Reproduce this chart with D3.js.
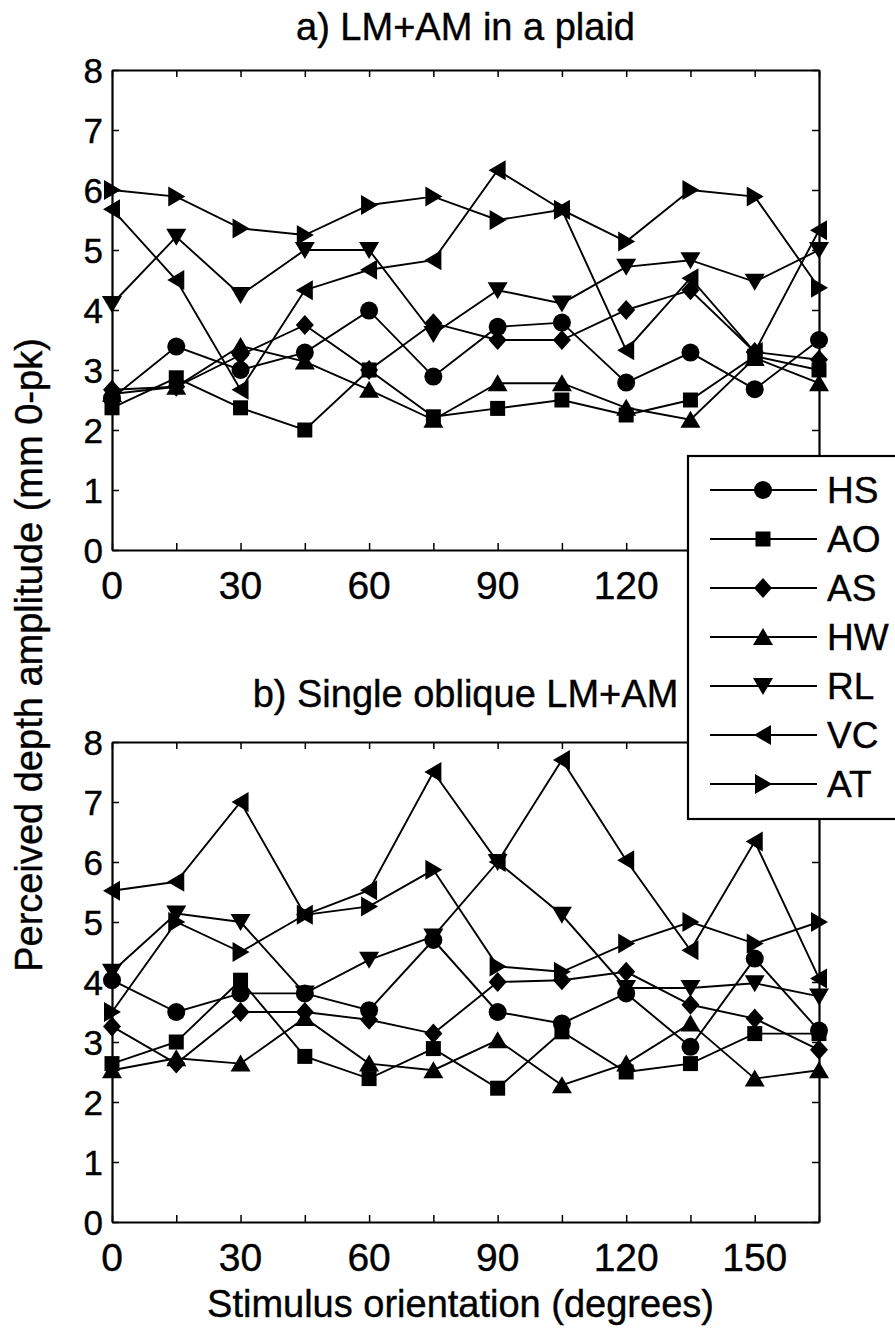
<!DOCTYPE html>
<html>
<head>
<meta charset="utf-8">
<script src="https://cdn.jsdelivr.net/npm/d3@7"></script>
<style>
  body { margin: 0; background: #fff; }
  text { font-family: "Liberation Sans", Arial, Helvetica, sans-serif; fill: #000; stroke: #000; stroke-width: 0.4px; }
</style>
</head>
<body>
<div id="chart"></div>
<script>
// data
const orientations = [0, 15, 30, 45, 60, 75, 90, 105, 120, 135, 150, 165];
const subjects = ['HS', 'AO', 'AS', 'HW', 'RL', 'VC', 'AT'];
const xTickLabels = [0, 30, 60, 90, 120, 150];
const yTickLabels = [0, 1, 2, 3, 4, 5, 6, 7, 8];

// a) LM+AM in a plaid
const plaidHS = [2.53, 3.39, 3.0, 3.29, 3.99, 2.89, 3.72, 3.79, 2.79, 3.29, 2.68, 3.5];
const plaidAO = [2.37, 2.87, 2.37, 2.0, 3.0, 2.22, 2.36, 2.5, 2.25, 2.5, 3.23, 3.0];
const plaidAS = [2.67, 2.72, 3.25, 3.75, 3.0, 3.78, 3.5, 3.5, 4.0, 4.33, 3.3, 3.17];
const plaidHW = [2.6, 2.72, 3.4, 3.14, 2.67, 2.17, 2.78, 2.78, 2.37, 2.17, 3.2, 2.78];
const plaidRL = [4.1, 5.22, 4.25, 5.0, 5.0, 3.6, 4.33, 4.11, 4.72, 4.83, 4.47, 5.0];
const plaidVC = [5.68, 4.5, 2.67, 4.33, 4.67, 4.83, 6.33, 5.67, 3.33, 4.53, 3.3, 5.33];
const plaidAT = [6.0, 5.89, 5.36, 5.25, 5.75, 5.89, 5.5, 5.67, 5.14, 6.0, 5.89, 4.37];

// b) Single oblique LM+AM
const obliqueHS = [4.03, 3.5, 3.81, 3.81, 3.53, 4.7, 3.5, 3.31, 3.81, 2.92, 4.39, 3.19];
const obliqueAO = [2.64, 3.0, 4.03, 2.76, 2.39, 2.89, 2.23, 3.17, 2.5, 2.64, 3.14, 3.14];
const obliqueAS = [3.26, 2.64, 3.5, 3.5, 3.37, 3.14, 4.0, 4.03, 4.17, 3.62, 3.39, 2.87];
const obliqueHW = [2.53, 2.73, 2.64, 3.4, 2.64, 2.53, 3.03, 2.28, 2.64, 3.31, 2.39, 2.53];
const obliqueRL = [4.17, 5.14, 5.0, 3.81, 4.37, 4.76, 6.0, 5.12, 3.9, 3.9, 3.98, 3.76];
const obliqueVC = [5.52, 5.67, 7.0, 5.12, 5.53, 7.5, 6.0, 7.7, 6.03, 4.53, 6.34, 4.06];
const obliqueAT = [3.5, 5.0, 4.5, 5.12, 5.26, 5.87, 4.26, 4.17, 4.64, 5.0, 4.64, 5.0];

const plaidSeries = [plaidHS, plaidAO, plaidAS, plaidHW, plaidRL, plaidVC, plaidAT];
const obliqueSeries = [obliqueHS, obliqueAO, obliqueAS, obliqueHW, obliqueRL, obliqueVC, obliqueAT];

// layout
const width = 895, height = 1329;
const left = 112, right = 819;
const panels = [
  { title: 'a) LM+AM in a plaid', top: 70, bottom: 550, series: plaidSeries, titleY: 40 },
  { title: 'b) Single oblique LM+AM', top: 742, bottom: 1222, series: obliqueSeries, titleY: 707 }
];

// marker shapes around (0,0); circle is drawn separately
const markerPaths = {
  AO: 'M-7.5,-7.5H7.5V7.5H-7.5Z',
  AS: 'M0,-10L9,0L0,10L-9,0Z',
  HW: 'M0,-9L10,8L-10,8Z',
  RL: 'M0,9L10,-8L-10,-8Z',
  VC: 'M-9,0L8,-10L8,10Z',
  AT: 'M9,0L-8,-10L-8,10Z'
};

function drawMarker(g, name, x, y) {
  if (name === 'HS') {
    g.append('circle').attr('cx', x).attr('cy', y).attr('r', 9).attr('fill', '#000');
  } else {
    g.append('path').attr('d', markerPaths[name])
      .attr('transform', `translate(${x},${y})`).attr('fill', '#000');
  }
}

const svg = d3.select('#chart').append('svg')
  .attr('width', width).attr('height', height);

const xScale = d3.scaleLinear().domain([0, 165]).range([left, right]);

panels.forEach((p) => {
  const yScale = d3.scaleLinear().domain([0, 8]).range([p.bottom, p.top]);
  const g = svg.append('g');

  // data lines + markers
  const line = d3.line().x((d, i) => xScale(orientations[i])).y((d) => yScale(d));
  p.series.forEach((vals, si) => {
    g.append('path').datum(vals)
      .attr('d', line)
      .attr('fill', 'none')
      .attr('stroke', '#000')
      .attr('stroke-width', 1.9);
    vals.forEach((v, i) => drawMarker(g, subjects[si], xScale(orientations[i]), yScale(v)));
  });

  // box with inward ticks on all sides
  const bottomAxis = d3.axisBottom(xScale).tickValues(orientations).tickSizeInner(-7).tickSizeOuter(0).tickFormat('');
  const topAxis = d3.axisTop(xScale).tickValues(orientations).tickSizeInner(-7).tickSizeOuter(0).tickFormat('');
  const leftAxis = d3.axisLeft(yScale).tickValues(yTickLabels).tickSizeInner(-7).tickSizeOuter(0).tickFormat('');
  const rightAxis = d3.axisRight(yScale).tickValues(yTickLabels).tickSizeInner(-7).tickSizeOuter(0).tickFormat('');

  [[bottomAxis, `translate(0,${p.bottom})`], [topAxis, `translate(0,${p.top})`],
   [leftAxis, `translate(${left},0)`], [rightAxis, `translate(${right},0)`]].forEach(([ax, tr]) => {
    const a = g.append('g').attr('transform', tr).call(ax);
    a.selectAll('path.domain').attr('stroke', '#000').attr('stroke-width', 2.2);
    a.selectAll('line').attr('stroke', '#000').attr('stroke-width', 1.5);
  });

  // tick labels
  g.selectAll('.xlab').data(xTickLabels).enter().append('text')
    .attr('x', (d) => xScale(d))
    .attr('y', p.bottom + 49)
    .attr('text-anchor', 'middle')
    .style('font-size', '39px')
    .text((d) => d);

  g.selectAll('.ylab').data(yTickLabels).enter().append('text')
    .attr('x', left - 9)
    .attr('y', (d) => yScale(d))
    .attr('dy', '0.36em')
    .attr('text-anchor', 'end')
    .style('font-size', '35px')
    .text((d) => d);

  // panel title
  svg.append('text')
    .attr('x', (left + right) / 2)
    .attr('y', p.titleY)
    .attr('text-anchor', 'middle')
    .style('font-size', '38px')
    .text(p.title);
});

// shared axis titles
svg.append('text')
  .attr('x', (left + right) / 2 - 5)
  .attr('y', 1317)
  .attr('text-anchor', 'middle')
  .style('font-size', '38px')
  .text('Stimulus orientation (degrees)');

svg.append('text')
  .attr('transform', 'translate(42,655) rotate(-90)')
  .attr('text-anchor', 'middle')
  .style('font-size', '38px')
  .text('Perceived depth amplitude (mm 0-pk)');

// legend over both panels, cut by the right edge
const legend = svg.append('g');
legend.append('rect')
  .attr('x', 688).attr('y', 456)
  .attr('width', 230).attr('height', 363)
  .attr('fill', '#fff').attr('stroke', '#000').attr('stroke-width', 2.2);

subjects.forEach((name, i) => {
  const y = 490 + i * 49;
  legend.append('line')
    .attr('x1', 710).attr('x2', 817).attr('y1', y).attr('y2', y)
    .attr('stroke', '#000').attr('stroke-width', 1.9);
  drawMarker(legend, name, 763, y);
  legend.append('text')
    .attr('x', 827).attr('y', y)
    .attr('dy', '0.36em')
    .style('font-size', '37px')
    .text(name);
});
</script>
</body>
</html>
